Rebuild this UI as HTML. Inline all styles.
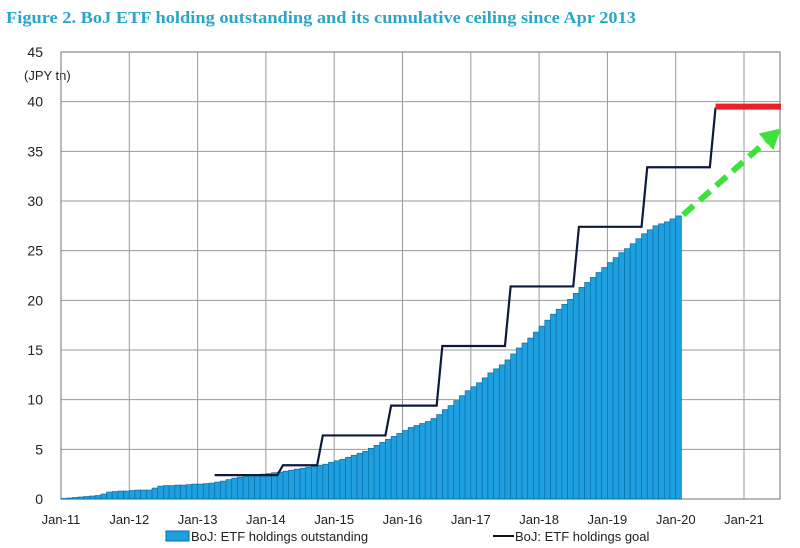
<!DOCTYPE html>
<html><head><meta charset="utf-8"><style>
html,body{margin:0;padding:0;background:#fff;}
svg{display:block;}
</style></head><body>
<svg id="chart" width="800" height="548" viewBox="0 0 800 548" xmlns="http://www.w3.org/2000/svg">
<text x="6" y="23" font-family="Liberation Serif, serif" font-weight="bold" font-size="17" fill="#2aa6c8" textLength="630" lengthAdjust="spacingAndGlyphs">Figure 2. BoJ ETF holding outstanding and its cumulative ceiling since Apr 2013</text>
<text x="24" y="80" font-family="Liberation Sans, sans-serif" font-size="13" fill="#222">(JPY tn)</text>
<g id="grid"></g>
<g id="bars"></g>
<g id="lines"></g>
<g id="axes"></g>
<g>
<rect x="166" y="531" width="23" height="10" fill="#1ea0e0" stroke="#0a6fa8" stroke-width="1"/>
<text x="191" y="541" font-family="Liberation Sans, sans-serif" font-size="13" fill="#222">BoJ: ETF holdings outstanding</text>
<line x1="493" y1="536" x2="514" y2="536" stroke="#111" stroke-width="2"/>
<text x="515" y="541" font-family="Liberation Sans, sans-serif" font-size="13" fill="#222">BoJ: ETF holdings goal</text>
</g>
</svg>
<script>
const yTicks=[0,5,10,15,20,25,30,35,40,45];
const xTickLabels=["Jan-11","Jan-12","Jan-13","Jan-14","Jan-15","Jan-16","Jan-17","Jan-18","Jan-19","Jan-20","Jan-21"];
// monthly holdings outstanding, Jan-11 .. Jan-20 (JPY tn)
const holdings=[
0.05,0.1,0.15,0.2,0.25,0.3,0.35,0.5,0.7,0.75,0.8,0.8,
0.85,0.9,0.9,0.9,1.1,1.3,1.35,1.35,1.4,1.4,1.45,1.5,
1.5,1.55,1.6,1.7,1.8,1.95,2.1,2.2,2.3,2.4,2.45,2.5,
2.55,2.65,2.7,2.8,2.9,3.0,3.1,3.2,3.3,3.4,3.5,3.7,
3.85,4.0,4.2,4.4,4.6,4.8,5.1,5.4,5.7,6.0,6.3,6.6,
6.9,7.2,7.4,7.6,7.8,8.1,8.5,9.0,9.4,9.9,10.4,10.9,
11.3,11.7,12.2,12.7,13.1,13.5,14.0,14.6,15.2,15.7,16.2,16.8,
17.4,18.0,18.6,19.1,19.6,20.1,20.7,21.3,21.8,22.3,22.8,23.3,
23.8,24.3,24.8,25.2,25.7,26.2,26.7,27.1,27.5,27.7,27.9,28.2,
28.5];
// goal: step start month index (from Jan-11) and level
const goalStartMonths=[27,39,46,58,67,79,91,103,115];
const goalLevels=[2.4,3.4,6.4,9.4,15.4,21.4,27.4,33.4,39.4];
const ceilingStart=115, ceilingEnd=126.5, ceilingLevel=39.5;
const arrowFrom=[109.3,28.6], arrowTo=[126.5,37.3];

const NS="http://www.w3.org/2000/svg";
const X0=61, PXM=68.3/12, Y0=499, PYU=(499-52)/45, XR=780;
const x=m=>X0+m*PXM, y=v=>Y0-v*PYU;
function mk(tag,attrs,parent){const e=document.createElementNS(NS,tag);for(const k in attrs)e.setAttribute(k,attrs[k]);parent.appendChild(e);return e;}
const grid=document.getElementById('grid'),bars=document.getElementById('bars'),lines=document.getElementById('lines'),axes=document.getElementById('axes');
yTicks.forEach(t=>{
 const l=mk('line',{x1:X0,x2:XR,y1:y(t),y2:y(t),stroke:'#9a9a9a','stroke-width':1},grid);
 
 
 const tx=mk('text',{x:43,y:y(t)+5,'text-anchor':'end','font-family':'Liberation Sans, sans-serif','font-size':14,fill:'#222'},axes);
 tx.textContent=t;
 
 
});
xTickLabels.forEach((s,i)=>{
 const xx=x(i*12);
 const l=mk('line',{x1:xx,x2:xx,y1:y(45),y2:Y0,stroke:'#9a9a9a','stroke-width':1},grid);
 
 
 const tx=mk('text',{x:xx,y:524,'text-anchor':'middle','font-family':'Liberation Sans, sans-serif','font-size':13,fill:'#222'},axes);
 tx.textContent=s;
 
 
});
const r=mk('rect',{x:X0,y:y(45),width:XR-X0,height:Y0-y(45),fill:'none',stroke:'#8a8a8a','stroke-width':1.2},grid);


holdings.forEach((v,i)=>{
 const b=mk('rect',{x:x(i),y:y(v),width:PXM,height:Y0-y(v),fill:'#1ea0e0',stroke:'#0b6ea6','stroke-width':0.7},bars);
 
 
});
let d='';
goalStartMonths.forEach((m,i)=>{
 d+=(i?'L':'M')+x(m)+','+y(goalLevels[i]);
 if(i<goalStartMonths.length-1)d+='L'+x(goalStartMonths[i+1]-1)+','+y(goalLevels[i]);
});
const gp=mk('path',{d:d,fill:'none',stroke:'#0d1a3a','stroke-width':2.2},lines);


const cl=mk('line',{x1:x(ceilingStart),x2:x(ceilingEnd),y1:y(ceilingLevel),y2:y(ceilingLevel),stroke:'#e8202a','stroke-width':6},lines);


const ax1=x(arrowFrom[0]),ay1=y(arrowFrom[1]),ax2=x(arrowTo[0]),ay2=y(arrowTo[1]);
const ang=Math.atan2(ay2-ay1,ax2-ax1),hl=20;
const bx=ax2-hl*Math.cos(ang),by=ay2-hl*Math.sin(ang);
const al=mk('line',{x1:ax1,y1:ay1,x2:bx,y2:by,stroke:'#3ee03a','stroke-width':6,'stroke-dasharray':'14,8'},lines);


const px=-Math.sin(ang)*11,py=Math.cos(ang)*11;
const ah=mk('polygon',{points:`${ax2},${ay2} ${bx+px},${by+py} ${bx-px},${by-py}`,fill:'#3ee03a'},lines);


</script>
</body></html>
